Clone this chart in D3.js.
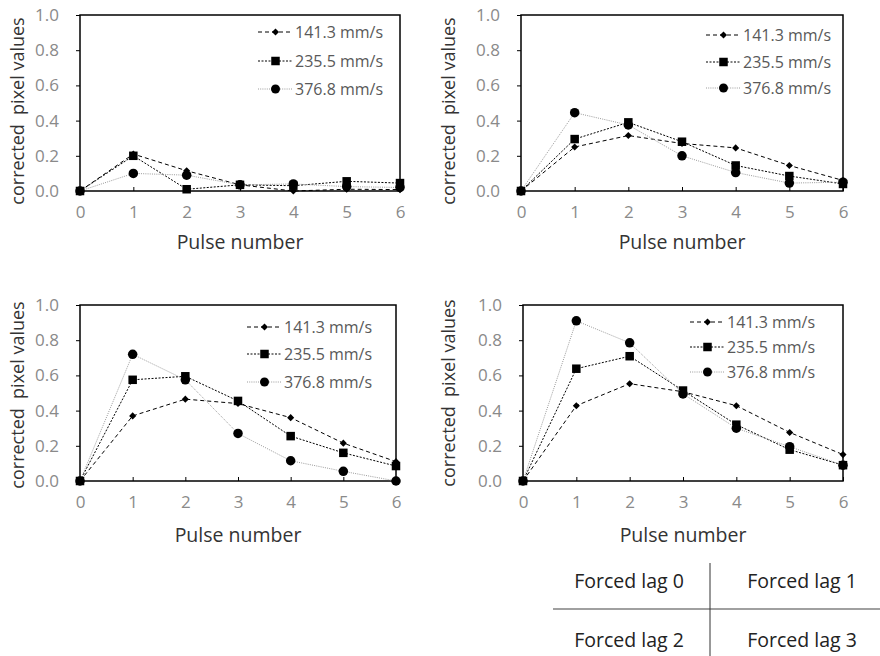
<!DOCTYPE html>
<html>
<head>
<meta charset="utf-8">
<script src="https://cdn.jsdelivr.net/npm/d3@7"></script>
<style>
  body { margin: 0; background: #fff; }
  svg { display: block; font-family: "Open Sans", sans-serif; }
</style>
</head>
<body>
<div id="chart"></div>
<script>
// pulse numbers on the x axis
var pulses = [0, 1, 2, 3, 4, 5, 6];
var speeds = ["141.3 mm/s", "235.5 mm/s", "376.8 mm/s"];
var yTicks = [0, 0.2, 0.4, 0.6, 0.8, 1.0];
var lagLabels = ["Forced lag 0", "Forced lag 1", "Forced lag 2", "Forced lag 3"];

// forced lag 0
var lag0_141 = [0, 0.21, 0.115, 0.035, 0.0, 0.01, 0.008];
var lag0_235 = [0, 0.20, 0.01, 0.035, 0.03, 0.055, 0.045];
var lag0_376 = [0, 0.10, 0.09, 0.035, 0.04, 0.025, 0.02];
// forced lag 1
var lag1_141 = [0, 0.25, 0.315, 0.27, 0.245, 0.145, 0.06];
var lag1_235 = [0, 0.295, 0.39, 0.28, 0.145, 0.085, 0.04];
var lag1_376 = [0, 0.445, 0.375, 0.20, 0.105, 0.045, 0.05];
// forced lag 2
var lag2_141 = [0, 0.37, 0.465, 0.44, 0.36, 0.215, 0.11];
var lag2_235 = [0, 0.575, 0.595, 0.455, 0.255, 0.16, 0.085];
var lag2_376 = [0, 0.72, 0.575, 0.27, 0.115, 0.055, 0.0];
// forced lag 3
var lag3_141 = [0, 0.428, 0.553, 0.507, 0.428, 0.276, 0.15];
var lag3_235 = [0, 0.638, 0.709, 0.514, 0.32, 0.178, 0.09];
var lag3_376 = [0, 0.91, 0.785, 0.495, 0.30, 0.195, 0.09];

var lagSeries = [
  [lag0_141, lag0_235, lag0_376],
  [lag1_141, lag1_235, lag1_376],
  [lag2_141, lag2_235, lag2_376],
  [lag3_141, lag3_235, lag3_376]
];

// where each panel sits on the page
var panels = [
  {x0: 80,  x1: 400, y0: 15,  y1: 191, labX: 24,  labY: 111, titleY: 249, legX: 258, legY: [32, 61, 89]},
  {x0: 521, x1: 843, y0: 15,  y1: 191, labX: 455, labY: 111, titleY: 249, legX: 706, legY: [35, 62, 88]},
  {x0: 80,  x1: 396, y0: 305, y1: 481, labX: 24,  labY: 395, titleY: 542, legX: 247, legY: [327, 354, 382]},
  {x0: 523, x1: 843, y0: 305, y1: 481, labX: 455, labY: 393, titleY: 542, legX: 690, legY: [322, 347, 372]}
];

var styles = [
  {stroke: "#000", dash: "4,3", width: 1, marker: "diamond"},
  {stroke: "#000", dash: "2,1.5", width: 1, marker: "square"},
  {stroke: "#9a9a9a", dash: "1,1.2", width: 1, marker: "circle"}
];

var svg = d3.select("#chart").append("svg")
  .attr("width", 880)
  .attr("height", 656);

function drawMarker(g, type, x, y, s) {
  if (type === "diamond") {
    g.append("path")
      .attr("d", d3.symbol().type(d3.symbolDiamond2).size(s * s * 0.5)())
      .attr("transform", "translate(" + x + "," + y + ")")
      .attr("fill", "#000");
  } else if (type === "square") {
    g.append("rect")
      .attr("x", x - s / 2).attr("y", y - s / 2)
      .attr("width", s).attr("height", s)
      .attr("fill", "#000");
  } else {
    g.append("circle")
      .attr("cx", x).attr("cy", y).attr("r", s / 2)
      .attr("fill", "#000");
  }
}

var markerSize = {diamond: 8, square: 8.5, circle: 9.5};
var legendSize = {diamond: 8, square: 8.5, circle: 9};

panels.forEach(function(p, i) {
  var g = svg.append("g");
  var x = d3.scaleLinear().domain([0, 6]).range([p.x0, p.x1]);
  var y = d3.scaleLinear().domain([0, 1]).range([p.y1, p.y0]);

  // frame
  g.append("rect")
    .attr("x", p.x0).attr("y", p.y0)
    .attr("width", p.x1 - p.x0).attr("height", p.y1 - p.y0)
    .attr("fill", "none")
    .attr("stroke", "#000")
    .attr("stroke-width", 1.5);

  // y axis
  var yAxis = g.append("g")
    .attr("transform", "translate(" + p.x0 + ",0)")
    .call(d3.axisLeft(y).tickValues(yTicks).tickFormat(d3.format(".1f")).tickSize(4).tickPadding(17));
  yAxis.select(".domain").remove();
  yAxis.selectAll("line").attr("stroke", "#000");
  yAxis.selectAll("text")
    .attr("fill", "#8a8a8a")
    .style("font-size", "17px")
    .style("font-family", "Open Sans");

  // x axis, ticks point inward
  var xAxis = g.append("g")
    .attr("transform", "translate(0," + p.y1 + ")")
    .call(d3.axisBottom(x).tickValues(pulses).tickFormat(d3.format("d")).tickSize(-4).tickPadding(15));
  xAxis.select(".domain").remove();
  xAxis.selectAll("line").attr("stroke", "#000");
  xAxis.selectAll("text")
    .attr("fill", "#8a8a8a")
    .style("font-size", "17px")
    .style("font-family", "Open Sans");

  // titles
  g.append("text")
    .attr("x", (p.x0 + p.x1) / 2)
    .attr("y", p.titleY)
    .attr("text-anchor", "middle")
    .attr("fill", "#333")
    .style("font-size", "19.5px")
    .text("Pulse number");

  g.append("text")
    .attr("transform", "translate(" + p.labX + "," + p.labY + ") rotate(-90)")
    .attr("text-anchor", "middle")
    .attr("fill", "#333")
    .style("font-size", "18px")
    .style("white-space", "pre")
    .text("corrected  pixel values");

  // series
  lagSeries[i].forEach(function(vals, k) {
    var st = styles[k];
    var line = d3.line()
      .x(function(d, j) { return x(pulses[j]); })
      .y(function(d) { return y(d); });
    g.append("path")
      .datum(vals)
      .attr("d", line)
      .attr("fill", "none")
      .attr("stroke", st.stroke)
      .attr("stroke-width", st.width)
      .attr("stroke-dasharray", st.dash);
    vals.forEach(function(v, j) {
      drawMarker(g, st.marker, x(pulses[j]), y(v), markerSize[st.marker]);
    });
  });

  // legend
  speeds.forEach(function(name, k) {
    var st = styles[k];
    var ly = p.legY[k];
    g.append("line")
      .attr("x1", p.legX).attr("x2", p.legX + 35)
      .attr("y1", ly).attr("y2", ly)
      .attr("stroke", st.stroke)
      .attr("stroke-width", st.width)
      .attr("stroke-dasharray", st.dash);
    drawMarker(g, st.marker, p.legX + 17.5, ly, legendSize[st.marker]);
    g.append("text")
      .attr("x", p.legX + 37)
      .attr("y", ly)
      .attr("dy", "0.35em")
      .attr("fill", "#595959")
      .style("font-size", "16px")
      .text(name);
  });
});

// key table of panel positions
var table = svg.append("g");
table.append("line")
  .attr("x1", 553).attr("x2", 880)
  .attr("y1", 609).attr("y2", 609)
  .attr("stroke", "#808080").attr("stroke-width", 1.5);
table.append("line")
  .attr("x1", 710).attr("x2", 710)
  .attr("y1", 563).attr("y2", 656)
  .attr("stroke", "#333").attr("stroke-width", 1);

var cellX = [629, 802];
var cellY = [588, 647];
lagLabels.forEach(function(t, i) {
  table.append("text")
    .attr("x", cellX[i % 2])
    .attr("y", cellY[Math.floor(i / 2)])
    .attr("text-anchor", "middle")
    .attr("fill", "#222")
    .style("font-size", "19.5px")
    .text(t);
});
</script>
</body>
</html>
